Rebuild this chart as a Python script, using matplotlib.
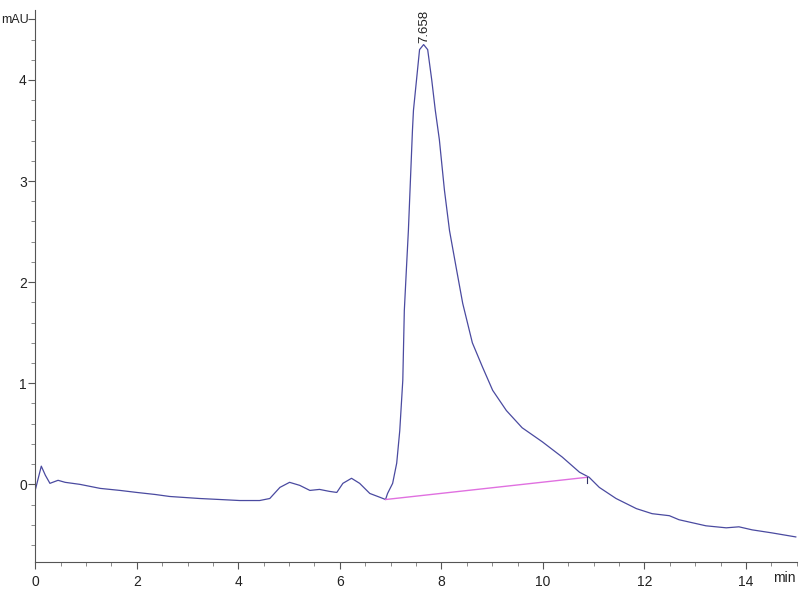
import matplotlib.pyplot as plt
from matplotlib.ticker import MultipleLocator

# chromatogram trace (min, mAU)
time = [0.0, 0.12, 0.2, 0.29, 0.45, 0.59, 0.88, 1.28, 1.67, 2.0, 2.36, 2.65,
        3.24, 3.64, 4.03, 4.42, 4.62, 4.82, 5.01, 5.21, 5.41, 5.6, 5.8, 5.94,
        6.06, 6.23, 6.39, 6.59, 6.8, 6.9, 6.94, 7.04, 7.12, 7.18, 7.24, 7.27,
        7.31, 7.35, 7.43, 7.45, 7.51, 7.57, 7.65, 7.73, 7.81, 7.88, 7.96, 8.06,
        8.16, 8.30, 8.42, 8.61, 8.81, 9.01, 9.28, 9.59, 9.99, 10.38, 10.72,
        10.91, 11.11, 11.44, 11.84, 12.15, 12.49, 12.68, 13.21, 13.61, 13.86,
        14.12, 14.51, 14.98]
signal = [-0.06, 0.18, 0.09, 0.01, 0.04, 0.02, 0.0, -0.04, -0.06, -0.08,
          -0.10, -0.12, -0.14, -0.15, -0.16, -0.16, -0.14, -0.03, 0.02, -0.01,
          -0.06, -0.05, -0.07, -0.08, 0.01, 0.06, 0.01, -0.09, -0.13, -0.15,
          -0.09, 0.01, 0.21, 0.53, 1.03, 1.72, 2.12, 2.51, 3.50, 3.70, 4.00,
          4.30, 4.35, 4.30, 4.00, 3.70, 3.41, 2.91, 2.51, 2.12, 1.79, 1.40,
          1.16, 0.93, 0.73, 0.56, 0.42, 0.27, 0.12, 0.07, -0.03, -0.14, -0.24,
          -0.29, -0.31, -0.35, -0.41, -0.43, -0.42, -0.45, -0.48, -0.52]

# integration baseline
base_t = [6.9, 10.87]
base_y = [-0.15, 0.07]

peak_t = 7.658
peak_y = 4.35

plt.rcParams['font.family'] = ['Liberation Sans', 'DejaVu Sans']

fig = plt.figure(figsize=(8, 6), dpi=100)
ax = fig.add_axes([0.044, 0.063, 0.952, 0.92])

ax.plot(time, signal, color='#4a4aa0', lw=0.9)
ax.plot(base_t, base_y, color='#e070e0', lw=1.0)
ax.plot([base_t[1], base_t[1]], [base_y[1], base_y[1] - 0.06], color='#333366', lw=0.8)

ax.text(peak_t, peak_y + 0.02, f"{peak_t:.3f}", rotation=90, ha='center', va='bottom',
        fontsize=9.5, color='#222222')

ax.set_xlim(0, 15)
ax.set_ylim(-0.77, 4.69)

ax.set_xticks([0, 2, 4, 6, 8, 10, 12, 14])
ax.xaxis.set_minor_locator(MultipleLocator(0.5))
ax.set_yticks([0, 1, 2, 3, 4, 4.6])
ax.set_yticklabels(['0', '1', '2', '3', '4', ''])
ax.yaxis.set_minor_locator(MultipleLocator(0.2))

# unit labels
fig.text(0.002, 0.967, 'mAU', ha='left', va='center', fontsize=9, color='#222222')
ax.text(14.75, -0.86, 'min', ha='center', va='top', fontsize=10, color='#222222')

for s in ['top', 'right']:
    ax.spines[s].set_visible(False)
for s in ['left', 'bottom']:
    ax.spines[s].set_color('#555555')

ax.tick_params(which='major', length=5, color='#555555', labelsize=10, labelcolor='#222222')
ax.tick_params(axis='x', which='major', pad=4)
ax.tick_params(axis='y', which='major', pad=1)
ax.tick_params(which='minor', length=3, color='#777777')

fig.savefig('out.png')
